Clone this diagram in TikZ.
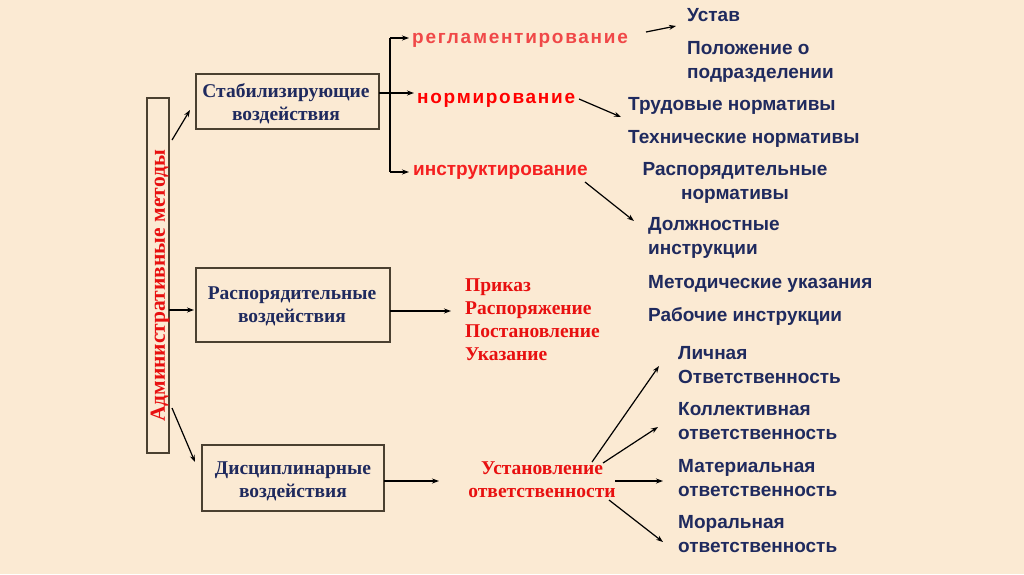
\documentclass[tikz,border=0pt]{standalone}
\usepackage{fontspec}
\setmainfont{Liberation Serif}
\newfontfamily\sansf{Liberation Sans}
\newfontfamily\sansw[LetterSpace=9]{Liberation Sans}
\usetikzlibrary{arrows.meta}
\definecolor{bg}{HTML}{FBEAD3}
\definecolor{navy}{HTML}{1F2A5E}
\definecolor{redA}{HTML}{F04848}
\definecolor{redB}{HTML}{FF0000}
\definecolor{redC}{HTML}{F52020}
\definecolor{redS}{HTML}{E81010}
\definecolor{boxc}{HTML}{4A4030}
\tikzset{
  x=1pt, y=-1pt,
  boxr/.style={draw=boxc, line width=1.1pt},
  serifb/.style={font=\fontsize{19.5}{23}\selectfont\bfseries, text=navy, align=center, inner sep=0pt},
  serifr/.style={font=\fontsize{19.5}{23}\selectfont\bfseries, text=redS, inner sep=0pt},
  sansb/.style={font=\fontsize{19}{24}\selectfont\sansf\bfseries, text=navy, align=left, inner sep=0pt},
  sansr/.style={font=\fontsize{19}{24}\selectfont\sansf\bfseries, inner sep=0pt},
  sansrw/.style={font=\fontsize{19}{24}\selectfont\sansw\bfseries, inner sep=0pt},
  arr/.style={-{Stealth[length=7pt,width=5pt]}, line width=1.2pt, black},
  ln/.style={line width=1.2pt, black}
}
\begin{document}
\begin{tikzpicture}
\fill[bg] (0,0) rectangle (1024,574);
\useasboundingbox (0,0) rectangle (1024,574);

% vertical box
\draw[boxr] (147,98) rectangle (169,453);
\node[serifr, rotate=90, font=\fontsize{21.5}{23}\selectfont\bfseries] (adm) at (160,286) {Административные методы};

% boxes (base anchor = last line baseline)
\draw[boxr] (196,74) rectangle (379,129);
\node[serifb, anchor=base] (b1) at (286,120) {Стабилизирующие\\воздействия};
\draw[boxr] (196,268) rectangle (390,342);
\node[serifb, anchor=base] (b2) at (292,322) {Распорядительные\\воздействия};
\draw[boxr] (202,445) rectangle (384,511);
\node[serifb, anchor=base] (b3) at (293,497) {Дисциплинарные\\воздействия};

\coordinate (b1e) at (379,93);
\coordinate (b2e) at (390,311);
\coordinate (b3e) at (384,481);

% arrows from vertical box
\coordinate (v1) at (172,140); \coordinate (v1e) at (190,110);
\coordinate (v2) at (169,310); \coordinate (v2e) at (194,310);
\coordinate (v3) at (172,408); \coordinate (v3e) at (195,462);
\draw[arr] (v1) -- (v1e);
\draw[arr] (v2) -- (v2e);
\draw[arr] (v3) -- (v3e);

% red sans
\node[sansrw, text=redA, anchor=base west] (reg) at (412,43) {регламентирование};
\node[sansrw, text=redB, anchor=base west] (norm) at (417,103) {нормирование};
\node[sansr, text=redC, anchor=base west] (instr) at (413,175) {инструктирование};

\coordinate (fork) at (390,93);
\coordinate (ftop) at (390,38);
\coordinate (fbot) at (390,172);
\draw[ln] (b1e) -- (fork);
\draw[ln] (ftop) -- (fbot);
\draw[arr] (ftop) -- (409,38);
\draw[arr] (fork) -- (414,93);
\draw[arr] (fbot) -- (409,172);

% right sans lists
\node[sansb, anchor=base west] (ustav) at (687,21) {Устав};
\node[sansb, anchor=base west] (pol) at (687,78) {Положение о\\подразделении};
\node[sansb, anchor=base west] (trud) at (628,110) {Трудовые нормативы};
\node[sansb, anchor=base west] (tech) at (628,143) {Технические нормативы};
\node[sansb, anchor=base, align=center] (rasp) at (735,199) {Распорядительные\\нормативы};
\node[sansb, anchor=base west] (dolzh) at (648,254) {Должностные\\инструкции};
\node[sansb, anchor=base west] (metod) at (648,288) {Методические указания};
\node[sansb, anchor=base west] (rab) at (648,321) {Рабочие инструкции};

\draw[arr] (646,32) -- (676,26);
\draw[arr] (579,99) -- (621,117);
\draw[arr] (585,182) -- (634,221);

% red serif list
\node[serifr, anchor=base west, align=left] (prik) at (465,360) {Приказ\\Распоряжение\\Постановление\\Указание};
\draw[arr] (b2e) -- (451,311);

% discipline
\node[serifr, anchor=base, align=center] (ust) at (542,497) {Установление\\ответственности};
\draw[arr] (b3e) -- (439,481);

\node[sansb, anchor=base west] (lich) at (678,383) {Личная\\Ответственность};
\node[sansb, anchor=base west] (koll) at (678,439) {Коллективная\\ответственность};
\node[sansb, anchor=base west] (mat) at (678,496) {Материальная\\ответственность};
\node[sansb, anchor=base west] (mor) at (678,552) {Моральная\\ответственность};

\draw[arr] (592,462) -- (659,366);
\draw[arr] (603,463) -- (658,427);
\draw[arr] (615,481) -- (663,481);
\draw[arr] (609,500) -- (663,542);
\end{tikzpicture}
\end{document}
